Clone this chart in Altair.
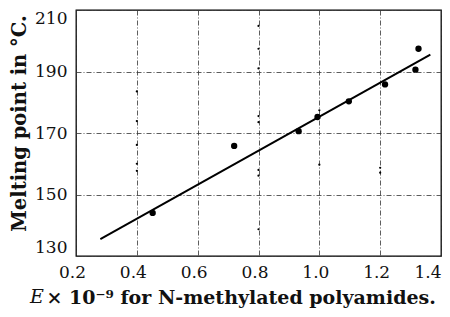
import altair as alt
import pandas as pd

# ---- data ----
x_ticks = [0.2, 0.4, 0.6, 0.8, 1.0, 1.2, 1.4]
y_ticks = [130, 150, 170, 190, 210]

big_x = [0.452, 0.72, 0.932, 0.994, 1.097, 1.216, 1.316, 1.326]
big_y = [144.0, 165.8, 170.6, 175.2, 180.3, 185.8, 190.6, 197.4]

small_x = [0.4, 0.4, 0.4, 0.4, 0.4,
           0.8, 0.8, 0.8, 0.8, 0.8, 0.8, 0.8, 0.8,
           1.0, 1.0, 1.2, 1.2]
small_y = [183.5, 173.9, 166.1, 160.0, 157.7,
           204.8, 197.4, 191.0, 175.5, 173.5, 158.0, 156.1, 138.7,
           177.4, 159.7, 158.7, 157.1]

fit_x = [0.28, 1.365]
fit_y = [135.5, 195.5]

big = pd.DataFrame({"x": big_x, "y": big_y})
small = pd.DataFrame({"x": small_x, "y": small_y})
fit = pd.DataFrame({"x": fit_x, "y": fit_y})

FONT = "DejaVu Serif"

xs = alt.Scale(domain=[0.2, 1.4], nice=False, zero=False)
ys = alt.Scale(domain=[130, 210], nice=False, zero=False)

x_enc = alt.X(
    "x:Q", scale=xs,
    axis=alt.Axis(
        values=x_ticks, format=".1f",
        title="× 10⁻⁹ for N-methylated polyamides.",
        titleAlign="left", titleX=-30, titleY=47, titleBaseline="alphabetic",
        titleFont=FONT, titleFontSize=19, titleFontWeight="bold", titleColor="#111",
        labelFont=FONT, labelFontSize=17, labelColor="#111",
        labelFlush=False,
        labelAlign={"condition": {"test": "datum.value >= 1.39", "value": "right"}, "value": "center"},
        labelOffset={"condition": {"test": "datum.value >= 1.39", "value": 0}, "value": -4},
        labelPadding=8,
        ticks=False, domain=False,
        grid=True, gridDash=[5, 2, 1, 2], gridColor="#333", gridWidth=0.8,
    ),
)
y_enc = alt.Y(
    "y:Q", scale=ys,
    axis=alt.Axis(
        values=y_ticks, format="d",
        title="Melting point in °C.",
        titleX=-57, titleY=113, titleAngle=270, titleAlign="center",
        titleBaseline="middle",
        titleFont=FONT, titleFontSize=19.5, titleFontWeight="bold", titleColor="#111",
        labelFont=FONT, labelFontSize=17, labelColor="#111",
        labelFlush=True, labelPadding=9,
        ticks=False, domain=False,
        grid=True, gridDash=[5, 2, 1, 2], gridColor="#333", gridWidth=0.8,
    ),
)

line = alt.Chart(fit).mark_line(color="black", strokeWidth=2).encode(x=x_enc, y=y_enc)
dots_big = alt.Chart(big).mark_circle(color="black", size=40, opacity=1).encode(x="x:Q", y="y:Q")
dots_small = alt.Chart(small).mark_circle(color="black", size=5, opacity=1).encode(x="x:Q", y="y:Q")

e_label = alt.Chart(alt.Data(values=[{"t": "E"}])).mark_text(
    font=FONT, fontSize=19, fontStyle="italic", align="left", baseline="alphabetic",
    color="#111",
).encode(text="t:N", x=alt.value(-46), y=alt.value(293))

chart = alt.layer(line, dots_big, dots_small, e_label).properties(
    width=365, height=246,
    autosize=alt.AutoSizeParams(type="none"),
    padding={"left": 68, "top": 2, "right": 1, "bottom": 52},
    background="white",
).configure_view(stroke="black", strokeWidth=1.3)

chart.save("out.html", embed_options={"renderer": "svg", "actions": False})
